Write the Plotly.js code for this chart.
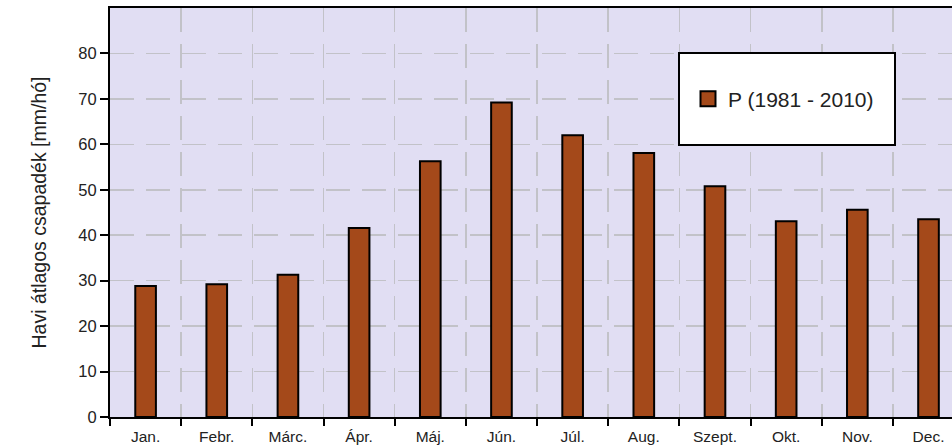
<!DOCTYPE html>
<html><head><meta charset="utf-8">
<script src="https://cdn.plot.ly/plotly-3.0.1.min.js"></script>
<style>html,body{margin:0;padding:0;overflow:hidden;background:#fff}</style>
</head><body>
<div id="chart" style="width:952px;height:448px"></div>
<script>
const months = ["Jan.","Febr.","Márc.","Ápr.","Máj.","Jún.","Júl.","Aug.","Szept.","Okt.","Nov.","Dec."];
const precip = [28.8, 29.2, 31.3, 41.6, 56.3, 69.2, 62.0, 58.1, 50.8, 43.1, 45.6, 43.5];
const seriesName = "P (1981 - 2010)";
const yTicks = [0,10,20,30,40,50,60,70,80];
const barColor = "#A4491A";

const bars = {
  type: "bar", x: months, y: precip, name: seriesName, width: 0.29,
  marker: {color: barColor, line: {color: "#000", width: 2}},
  showlegend: false
};
// legend entry (larger square symbol like the reference)
const legendEntry = {
  type: "scatter", mode: "markers", x: [null], y: [null], name: seriesName,
  marker: {symbol: "square", size: 15, color: barColor, line: {color: "#000", width: 2}},
  showlegend: true, hoverinfo: "skip"
};
const font = "Liberation Sans, Arial, sans-serif";
const layout = {
  width: 952, height: 448,
  margin: {l: 110, r: 0, t: 8, b: 31},
  paper_bgcolor: "#ffffff", plot_bgcolor: "#E1DEF3",
  font: {family: font, color: "#222", size: 16},
  xaxis: {
    type: "category", range: [-0.5, 11.33], tickson: "boundaries",
    ticks: "outside", ticklen: 7, tickwidth: 2, tickcolor: "#000",
    showline: true, linecolor: "#000", linewidth: 2, mirror: true,
    showgrid: true, gridcolor: "#C2C2C8", gridwidth: 1.5, griddash: "24px,12px",
    tickfont: {size: 15.5, color: "#222", family: font}, ticklabelstandoff: 4, fixedrange: true
  },
  yaxis: {
    range: [0, 90], tickvals: yTicks, ticktext: yTicks.map(String),
    ticks: "outside", ticklen: 8, tickwidth: 2, tickcolor: "#000",
    showline: true, linecolor: "#000", linewidth: 2, mirror: false,
    showgrid: true, gridcolor: "#C2C2C8", gridwidth: 1.5, griddash: "24px,12px",
    zeroline: false, tickfont: {size: 16.5, color: "#222", family: font},
    title: {text: "Havi átlagos csapadék [mm/hó]", font: {size: 19.5, color: "#222", family: font}, standoff: 27}
  },
  shapes: [{
    type: "rect", xref: "paper", yref: "paper",
    x0: (679-110)/842, x1: (895-110)/842, y0: (417-145)/409, y1: (417-53)/409,
    fillcolor: "#ffffff", line: {color: "#000", width: 2}, layer: "above"
  }],
  legend: {
    x: (688-110)/842, y: (417-99)/409, xanchor: "left", yanchor: "middle",
    bgcolor: "rgba(0,0,0,0)", borderwidth: 0,
    font: {size: 21, color: "#222", family: font}
  }
};
Plotly.newPlot("chart", [bars, legendEntry], layout, {staticPlot: true, displayModeBar: false});
</script>
</body></html>
